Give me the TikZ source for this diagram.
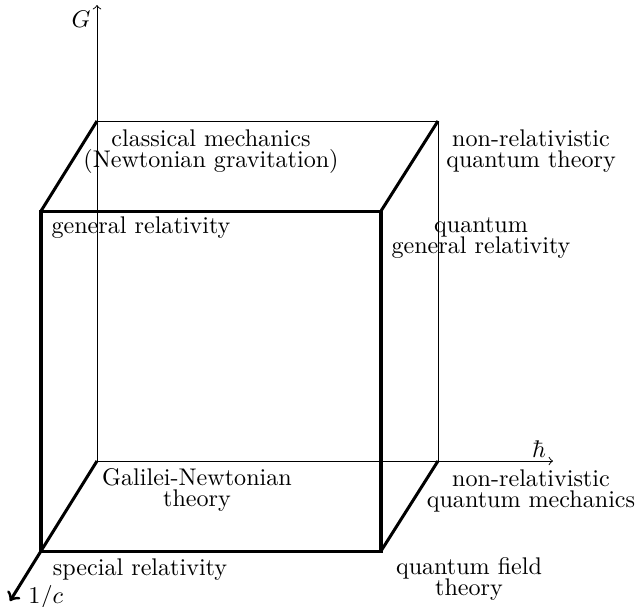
\documentclass[tikz,border=0pt]{standalone}
\usetikzlibrary{arrows}
\begin{document}
\begin{tikzpicture}[x=0.415pt,y=-0.415pt,
  thinline/.style={line width=0.4pt},
  thickline/.style={line width=1.25pt},
  lbl/.style={inner sep=0pt,align=center,font={\fontsize{10pt}{8.8pt}\selectfont\lineskiplimit=-20pt}}]
\useasboundingbox (0,0) rectangle (639,606);
% back corners
\coordinate (O) at (97,461);
\coordinate (BT) at (97,121);
\coordinate (BTR) at (438,121);
\coordinate (BR) at (438,461);
\coordinate (Gend) at (97,5);
\coordinate (Hend) at (553,461);
% front corners
\coordinate (FTL) at (41,211);
\coordinate (FTR) at (381,211);
\coordinate (FBR) at (381,551);
\coordinate (FBL) at (41,551);
\coordinate (Cend) at (10,601);
% thin back structure
\draw[thinline,->] (O) -- (Gend);
\draw[thinline,->] (O) -- (Hend);
\draw[thinline] (BT) -- (BTR) -- (BR);
% thick front structure
\draw[thickline] (FTL) -- (FTR) -- (FBR) -- (FBL) -- cycle;
\draw[thickline] (FTL) -- (BT);
\draw[thickline] (FTR) -- (BTR);
\draw[thickline] (FBR) -- (BR);
\draw[thickline,->] (O) -- (FBL) -- (Cend);
% axis labels
\node[inner sep=0pt] (G) at (81,19) {$G$};
\node[inner sep=0pt] (hbar) at (539,449) {$\hbar$};
\node[inner sep=0pt,anchor=base west] (c) at (28,603) {$1/c$};
% theory labels
\node[lbl,anchor=north] (cm) at (211,129) {classical mechanics\\(Newtonian gravitation)};
\node[lbl,anchor=north] (nrqt) at (531,129) {non-relativistic\\quantum theory};
\node[lbl,anchor=base] (gr) at (141,233) {general relativity};
\node[lbl,anchor=north] (qgr) at (481,217) {quantum\\general relativity};
\node[lbl,anchor=north] (gn) at (197,468) {Galilei-Newtonian\\theory};
\node[lbl,anchor=north] (nrqm) at (531,469) {non-relativistic\\quantum mechanics};
\node[lbl,anchor=base] (sr) at (140,575) {special relativity};
\node[lbl,anchor=north] (qft) at (469,557) {quantum field\\theory};
\end{tikzpicture}
\end{document}
